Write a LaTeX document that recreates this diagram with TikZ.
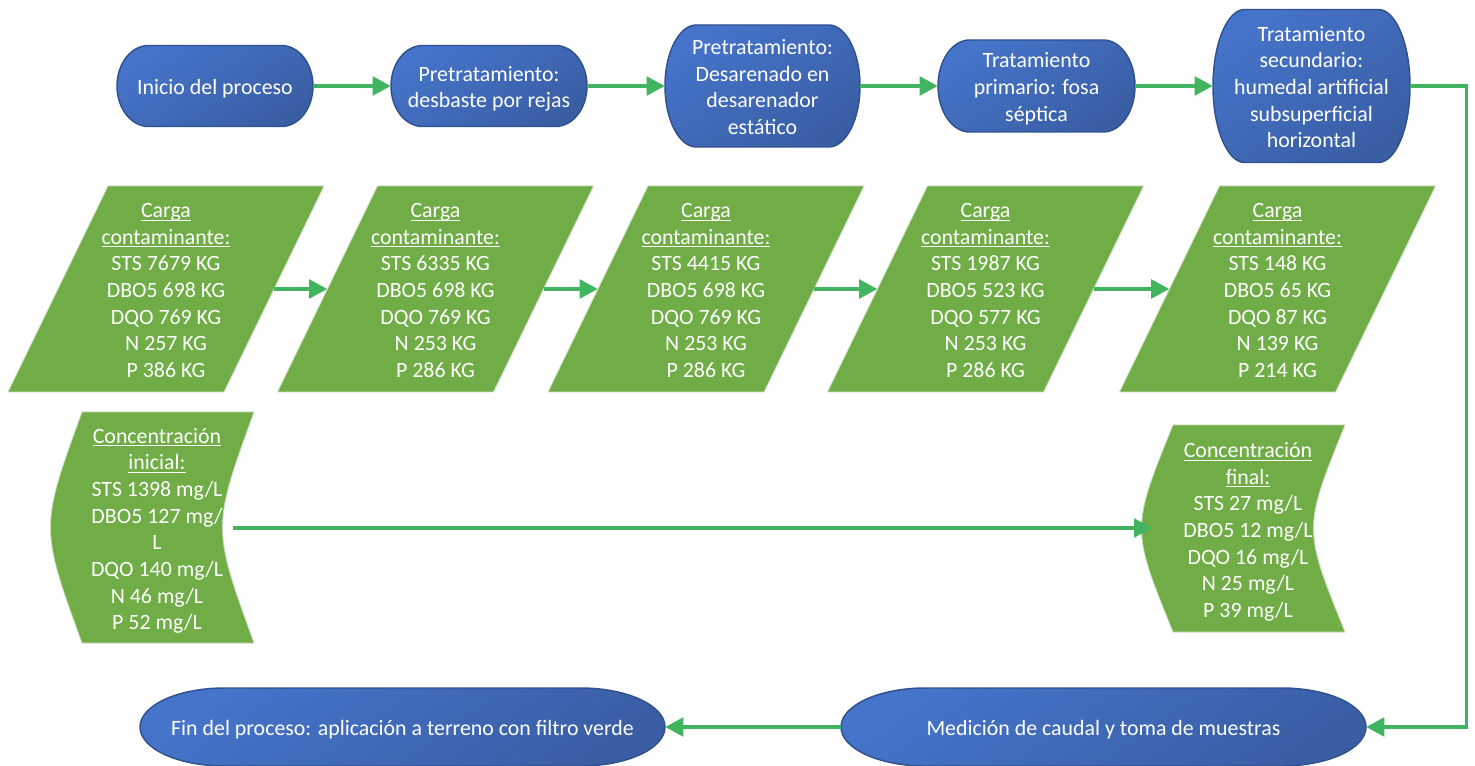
\documentclass[tikz,border=0pt]{standalone}
\usepackage{fontspec}
\setmainfont{Carlito}
\usetikzlibrary{arrows.meta,calc}

\definecolor{flowgreen}{RGB}{65,180,95}
\definecolor{boxgreen}{RGB}{112,173,71}
\definecolor{boxedge}{RGB}{200,222,188}
\definecolor{termtop}{RGB}{70,116,202}
\definecolor{termbot}{RGB}{57,94,164}
\definecolor{termedge}{RGB}{47,82,143}

% underlined heading line with a fixed underline position
\newcommand\hdr[1]{\setbox0=\hbox{#1}\leavevmode\rlap{\rule[-2.4pt]{\wd0}{0.7pt}}\box0}
% struts for the first and last line of a text block, so blocks centre on their lines
\newcommand\firstl{\rule{0pt}{16.4pt}}
\newcommand\lastl{\rule[-3.6pt]{0pt}{3.6pt}}

% terminator outline: centre x, centre y, width, height (in px units)
\newcommand\termpath[4]{%
  \pgfmathsetmacro\tmRX{0.161*#3}%
  \pgfmathsetmacro\tmRY{#4/2}%
  \pgfmathsetmacro\tmL{#1-#3/2+\tmRX}%
  \pgfmathsetmacro\tmR{#1+#3/2-\tmRX}%
  \pgfmathsetmacro\tmT{#2-\tmRY}%
  \pgfmathsetmacro\tmB{#2+\tmRY}%
  \pgfmathsetmacro\tmKX{0.5523*\tmRX}%
  \pgfmathsetmacro\tmKY{0.5523*\tmRY}%
  \draw[termshape] (\tmL,\tmT) -- (\tmR,\tmT)
    .. controls ({\tmR+\tmKX},\tmT) and ({\tmR+\tmRX},{#2-\tmKY}) .. ({\tmR+\tmRX},#2)
    .. controls ({\tmR+\tmRX},{#2+\tmKY}) and ({\tmR+\tmKX},\tmB) .. (\tmR,\tmB)
    -- (\tmL,\tmB)
    .. controls ({\tmL-\tmKX},\tmB) and ({\tmL-\tmRX},{#2+\tmKY}) .. ({\tmL-\tmRX},#2)
    .. controls ({\tmL-\tmRX},{#2-\tmKY}) and ({\tmL-\tmKX},\tmT) .. (\tmL,\tmT) -- cycle;}

% slanted data box centred at x = #1 (rows 186..392)
\newcommand\datapath[1]{%
  \draw[datashape] ({#1-58},186) -- ({#1+158},186) -- ({#1+58},392) -- ({#1-158},392) -- cycle;}

% stored-data outline: centre x, centre y, half height
\newcommand\storedpath[3]{%
  \draw[datashape] ({#1-75},{#2-#3}) -- ({#1+97},{#2-#3})
    .. controls ({#1+55},#2) .. ({#1+97},{#2+#3})
    -- ({#1-75},{#2+#3})
    .. controls ({#1-117},#2) .. ({#1-75},{#2-#3}) -- cycle;}

\begin{document}
\begin{tikzpicture}[x=0.75pt,y=-0.75pt,
  termshape/.style={draw=termedge, line width=1.1pt, top color=termtop, bottom color=termbot, shading angle=35},
  datashape/.style={draw=boxedge, line width=0.6pt, fill=boxgreen},
  txt/.style={text=white, align=center, inner sep=0pt, font=\fontsize{16.4}{20}\selectfont},
  flow/.style={draw=flowgreen, line width=2.3pt, -{Triangle[length=13.5pt,width=14pt]}}]

\useasboundingbox (0,0) rectangle (1475,766);

% process steps (terminators)
\termpath{215}{86}{196}{81}
\termpath{489}{86}{196}{81}
\termpath{762.5}{86}{195}{122}
\termpath{1036.5}{86}{197}{92}
\termpath{1311.5}{86}{197}{153}
\termpath{402.5}{727}{525}{78}
\termpath{1103.5}{727}{525}{78}

\node[txt, minimum width=147pt, minimum height=60.75pt] (s1) at (215,86) {\firstl Inicio del proceso\lastl};
\node[txt, minimum width=147pt, minimum height=60.75pt] (s2) at (489,86) {\firstl Pretratamiento:\\desbaste por rejas\lastl};
\node[txt, minimum width=146.25pt, minimum height=91.5pt] (s3) at (762.5,86) {\firstl Pretratamiento:\\Desarenado en\\desarenador\\estático\lastl};
\node[txt, minimum width=147.75pt, minimum height=69pt] (s4) at (1036.5,86) {\firstl Tratamiento\\primario: fosa\\séptica\lastl};
\node[txt, minimum width=147.75pt, minimum height=114.75pt] (s5) at (1311.5,86) {\firstl Tratamiento\\secundario:\\humedal artificial\\subsuperficial\\horizontal\lastl};
\node[txt, minimum width=393.75pt, minimum height=58.5pt] (fin) at (402.5,727) {\firstl Fin del proceso: aplicación a terreno con filtro verde\lastl};
\node[txt, minimum width=393.75pt, minimum height=58.5pt] (med) at (1103.5,727) {\firstl Medición de caudal y toma de muestras\lastl};

% pollutant loads
\datapath{166}
\datapath{435.5}
\datapath{706}
\datapath{985.5}
\datapath{1277.5}

\tikzset{load/.style={txt, minimum width=162pt, minimum height=154.5pt}}
\node[load] (c1) at (166,289) {\firstl\hdr{Carga}\\\hdr{contaminante:}\\STS 7679 KG\\DBO5 698 KG\\DQO 769 KG\\N 257 KG\\P 386 KG\lastl};
\node[load] (c2) at (435.5,289) {\firstl\hdr{Carga}\\\hdr{contaminante:}\\STS 6335 KG\\DBO5 698 KG\\DQO 769 KG\\N 253 KG\\P 286 KG\lastl};
\node[load] (c3) at (706,289) {\firstl\hdr{Carga}\\\hdr{contaminante:}\\STS 4415 KG\\DBO5 698 KG\\DQO 769 KG\\N 253 KG\\P 286 KG\lastl};
\node[load] (c4) at (985.5,289) {\firstl\hdr{Carga}\\\hdr{contaminante:}\\STS 1987 KG\\DBO5 523 KG\\DQO 577 KG\\N 253 KG\\P 286 KG\lastl};
\node[load] (c5) at (1277.5,289) {\firstl\hdr{Carga}\\\hdr{contaminante:}\\STS 148 KG\\DBO5 65 KG\\DQO 87 KG\\N 139 KG\\P 214 KG\lastl};

% concentrations
\storedpath{157}{527.5}{115.5}
\storedpath{1248}{528.5}{103.5}
\node[txt] (ci) at (157,528) {\firstl\hdr{Concentración}\\\hdr{inicial:}\\STS 1398 mg/L\\DBO5 127 mg/\\L\\DQO 140 mg/L\\N 46 mg/L\\P 52 mg/L\lastl};
\node[txt] (cf) at (1248,529) {\firstl\hdr{Concentración}\\\hdr{final:}\\STS 27 mg/L\\DBO5 12 mg/L\\DQO 16 mg/L\\N 25 mg/L\\P 39 mg/L\lastl};
\coordinate (ciE) at ($(ci.center)+(76,0)$);
\coordinate (cfW) at ($(cf.center)+(-96,-1)$);

% connectors
\draw[flow] (s1.east) -- (s2.west);
\draw[flow] (s2.east) -- (s3.west);
\draw[flow] (s3.east) -- (s4.west);
\draw[flow] (s4.east) -- (s5.west);
\draw[flow] (s5.east) -- ++(56,0) |- (med.east);
\draw[flow] (med.west) -- (fin.east);
\draw[flow] (c1.east) -- (c2.west);
\draw[flow] (c2.east) -- (c3.west);
\draw[flow] (c3.east) -- (c4.west);
\draw[flow] (c4.east) -- (c5.west);
\draw[flow] (ciE) -- (cfW);
\end{tikzpicture}
\end{document}
